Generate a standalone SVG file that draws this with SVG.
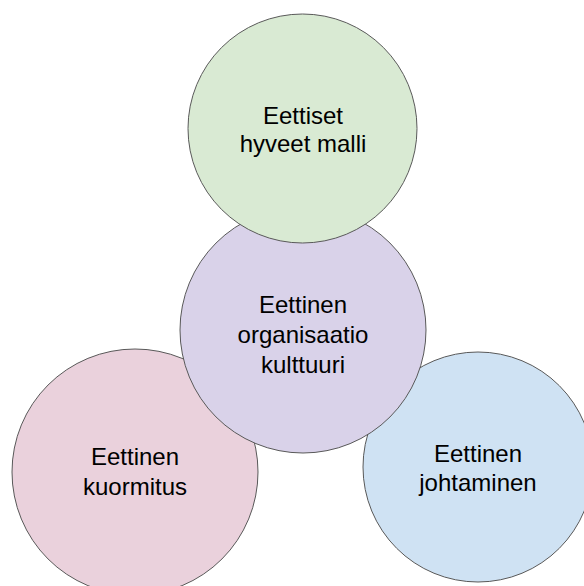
<svg xmlns="http://www.w3.org/2000/svg" width="584" height="586" viewBox="0 0 584 586">
<style>
.c{stroke:#595959;stroke-width:1}
.t{font-family:"Liberation Sans",Arial,sans-serif;font-size:24px;fill:#000;text-anchor:middle}
</style>
<rect width="584" height="586" fill="#fff"/>
<g id="connectors"/>
<g id="pink">
<circle class="c" cx="135" cy="472" r="123" fill="#ead1dc"/>
<text class="t" x="135" y="465">Eettinen</text>
<text class="t" x="135" y="495">kuormitus</text>
</g>
<g id="blue">
<circle class="c" cx="478" cy="467" r="115" fill="#cfe2f3"/>
<text class="t" x="478" y="462">Eettinen</text>
<text class="t" x="478" y="491">johtaminen</text>
</g>
<g id="purple">
<circle class="c" cx="303" cy="330" r="123" fill="#d9d2e9"/>
<text class="t" x="303" y="313">Eettinen</text>
<text class="t" x="303" y="343">organisaatio</text>
<text class="t" x="303" y="373">kulttuuri</text>
</g>
<g id="green">
<circle class="c" cx="302.5" cy="128.5" r="114.5" fill="#d9ead3"/>
<text class="t" x="303" y="124">Eettiset</text>
<text class="t" x="303" y="152">hyveet malli</text>
</g>
</svg>
